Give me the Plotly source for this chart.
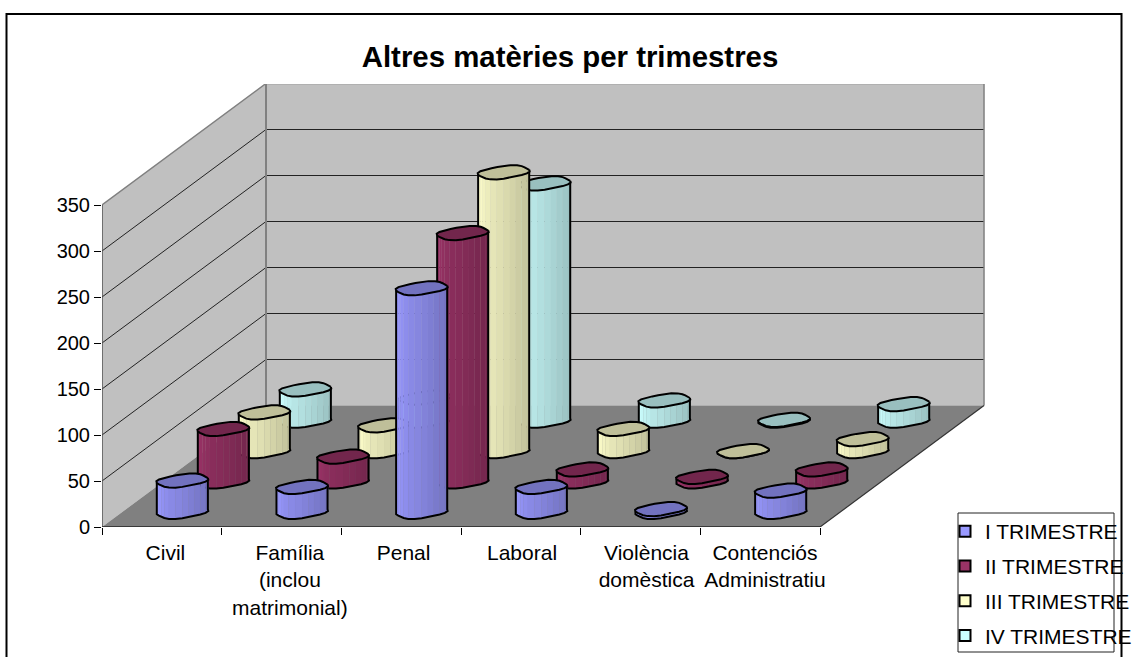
import math
import plotly.graph_objects as go

# values
categories = ['Civil', 'Família<br>(inclou<br>matrimonial)', 'Penal', 'Laboral',
              'Violència<br>domèstica', 'Contenciós<br>Administratiu']
series_names = ['I TRIMESTRE', 'II TRIMESTRE', 'III TRIMESTRE', 'IV TRIMESTRE']
trim_1 = [34, 27, 243, 27, 3, 23]
trim_2 = [57, 27, 270, 13, 5, 13]
trim_3 = [42, 28, 303, 24, 0, 13]
trim_4 = [34, 25, 258, 22, 1, 18]
y_ticks = [0, 50, 100, 150, 200, 250, 300, 350]

series_values = [trim_1, trim_2, trim_3, trim_4]
series_colors = [(153, 153, 255), (153, 51, 102), (255, 255, 204), (204, 255, 255)]

W, H = 1133, 657
# oblique projection, depth 0 = front of the floor, depth 1 = back wall
PX_CAT = 119.67
PX_VAL = 0.92
SKEW_X = 164 / PX_CAT
SKEW_Y = 121.5 / PX_VAL
LEFT, RIGHT, BOTTOM, TOP = 102, 985, 527, 84
R_CAT = 0.199
R_DEPTH = 0.056
SEGS = 12


def proj(cat, depth, val):
    return cat + depth * SKEW_X, val + depth * SKEW_Y


def shade(rgb, k):
    return 'rgb({},{},{})'.format(*[int(c * k) for c in rgb])


def ellipse_pt(cat, depth, val, t):
    # the original's cylinders are lumpy, not clean ellipses
    r = 1 + 0.06 * math.sin(4 * t + 1.66)
    return proj(cat + r * R_CAT * math.cos(t), depth + r * R_DEPTH * math.sin(t), val)


def polygon(points, color, line='rgba(0,0,0,0)', width=0):
    return go.Scatter(
        x=[p[0] for p in points], y=[p[1] for p in points],
        mode='lines', fill='toself', fillcolor=color,
        line=dict(color=line, width=width),
        hoverinfo='skip', showlegend=False,
    )


def line(points, color, width):
    return go.Scatter(
        x=[p[0] for p in points], y=[p[1] for p in points],
        mode='lines', line=dict(color=color, width=width),
        hoverinfo='skip', showlegend=False,
    )


fig = go.Figure()
n_cat = len(categories)
top_val = y_ticks[-1]

# walls and floor
fig.add_trace(polygon([proj(0, 0, 0), proj(0, 1, 0), proj(0, 1, top_val), proj(0, 0, top_val)], '#c0c0c0'))
fig.add_trace(polygon([proj(0, 1, 0), proj(n_cat, 1, 0), proj(n_cat, 1, top_val), proj(0, 1, top_val)], '#c0c0c0'))
for v in y_ticks[1:-1]:
    fig.add_trace(line([proj(0, 0, v), proj(0, 1, v), proj(n_cat, 1, v)], '#222222', 1))
fig.add_trace(line([proj(0, 0, top_val), proj(0, 1, top_val), proj(n_cat, 1, top_val), proj(n_cat, 1, 0)], '#808080', 1.5))
fig.add_trace(line([proj(0, 1, 0), proj(0, 1, top_val)], '#808080', 2))
fig.add_trace(polygon([proj(0, 0, 0), proj(n_cat, 0, 0), proj(n_cat, 1, 0), proj(0, 1, 0)], '#808080'))
fig.add_trace(line([proj(0, 0, 0), proj(0, 0, top_val)], '#555555', 1.5))
fig.add_trace(line([proj(n_cat, 0, 0), proj(n_cat, 1, 0)], '#333333', 1.2))
fig.add_trace(line([proj(0, 0, 0), proj(n_cat, 0, 0)], '#222222', 1.5))

# cylinders, back row first
t0 = math.atan2(R_DEPTH * SKEW_X * PX_CAT, R_CAT * PX_CAT)
for s in range(len(series_values) - 1, -1, -1):
    depth = (s + 0.5) / len(series_values)
    rgb = series_colors[s]
    for c, val in enumerate(series_values[s]):
        cat = c + 0.5
        # front half of the side, split into strips from left to right
        ts = [t0 + math.pi + i * math.pi / SEGS for i in range(SEGS + 1)]
        for i in range(SEGS):
            k = 1 - 0.27 * i / (SEGS - 1)
            fig.add_trace(polygon(
                [ellipse_pt(cat, depth, 0, ts[i]), ellipse_pt(cat, depth, 0, ts[i + 1]),
                 ellipse_pt(cat, depth, val, ts[i + 1]), ellipse_pt(cat, depth, val, ts[i])],
                shade(rgb, k), shade(rgb, k), 0.5,
            ))
        outline = [ellipse_pt(cat, depth, val, ts[0])] + [ellipse_pt(cat, depth, 0, t) for t in ts] + [ellipse_pt(cat, depth, val, ts[-1])]
        fig.add_trace(line(outline, 'black', 2))
        rim = [ellipse_pt(cat, depth, val, t0 + i * math.pi / SEGS) for i in range(2 * SEGS + 1)]
        fig.add_trace(polygon(rim, shade(rgb, 0.75), 'black', 2))

# legend entries
for name, rgb in zip(series_names, series_colors):
    fig.add_trace(go.Scatter(
        x=[None], y=[None], mode='markers', name=name, legendgroup=name,
        marker=dict(symbol='square', size=11, color=shade(rgb, 1), line=dict(color='black', width=2)),
    ))

fig.update_layout(
    width=W, height=H,
    # autoexpand off, otherwise the legend pushes the plot area up
    margin=dict(l=0, r=0, t=0, b=0, autoexpand=False),
    paper_bgcolor='white', plot_bgcolor='white',
    font=dict(family='Liberation Sans', color='black', size=20),
    title=dict(text='<b>Altres matèries per trimestres</b>', font=dict(size=29.4),
               x=570 / W, xanchor='center', y=1 - 57 / H, yanchor='middle'),
    xaxis=dict(
        domain=[LEFT / W, RIGHT / W], range=[0, (RIGHT - LEFT) / PX_CAT],
        tickmode='array', tickvals=[0.53, 1.57, 2.52, 3.51, 4.55, 5.54], ticktext=categories,
        tickfont=dict(size=21),
        ticks='', showgrid=False, zeroline=False, showline=False, ticklabelstandoff=11,
        minor=dict(tickmode='array', tickvals=list(range(n_cat + 1)), ticks='outside', ticklen=7,
                   tickcolor='black', tickwidth=1, showgrid=False),
    ),
    yaxis=dict(
        domain=[(H - BOTTOM) / H, (H - TOP) / H], range=[0, (BOTTOM - TOP) / PX_VAL],
        tickmode='array', tickvals=y_ticks, ticks='outside', ticklen=7,
        tickcolor='black', tickwidth=1, showgrid=False, zeroline=False, showline=False,
    ),
    legend=dict(x=945 / W, xanchor='left', y=1 - 511 / H, yanchor='top', bgcolor='rgba(0,0,0,0)',
                font=dict(size=21), tracegroupgap=4.5),
    shapes=[
        # chart border, runs off the bottom of the page
        dict(type='rect', xref='paper', yref='paper', x0=6.5 / W, x1=1121.5 / W, y0=-0.05, y1=1 - 14 / H,
             line=dict(color='black', width=2)),
        # legend box
        dict(type='rect', xref='paper', yref='paper', x0=958 / W, x1=1114 / W, y0=1 - 652 / H, y1=1 - 513 / H,
             line=dict(color='#222222', width=1)),
    ],
)

# the page's default body margin would push the chart off by 8px
fig.write_html("out.html", config=dict(displayModeBar=False), post_script="document.body.style.margin = '0';")
